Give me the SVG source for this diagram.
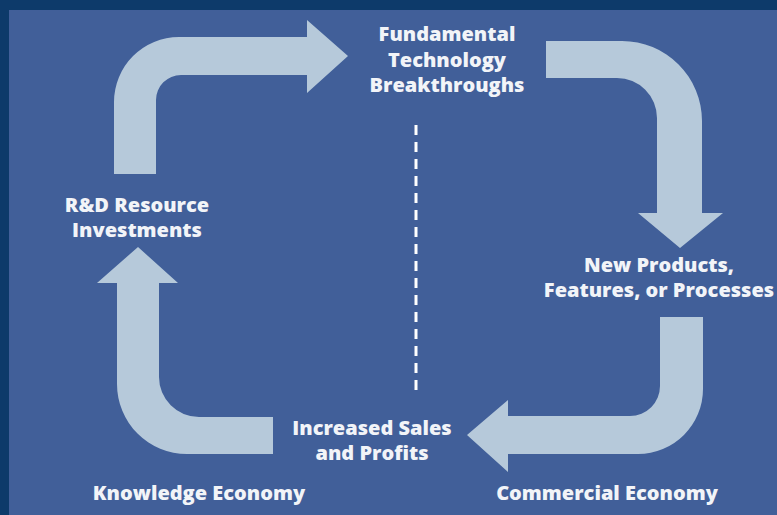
<svg xmlns="http://www.w3.org/2000/svg" width="777" height="515" viewBox="0 0 777 515">
<style>
.lbl{font-family:"Open Sans","Liberation Sans",sans-serif;font-weight:800;font-size:20px;fill:#f2f4f8;text-anchor:middle}
.arr{fill:#b6c9da}
</style>
<rect x="0" y="0" width="777" height="515" fill="#0d3a6a"/>
<rect x="9" y="10" width="768" height="505" fill="#415f99"/>
<g id="connectors">
<path class="arr" d="M114,174 L114,102 A65,65 0 0 1 179,37 L307,37 L307,20 L348,56 L307,93 L307,75 L181,75 A25,25 0 0 0 156,100 L156,174 Z"/>
<path class="arr" d="M546,41 L622,41 A80,80 0 0 1 702,121 L702,213 L723,213 L680,248 L638,213 L657,213 L657,118 A40,40 0 0 0 617,78 L546,78 Z"/>
<path class="arr" d="M660,317 L703,317 L703,389 A65,65 0 0 1 638,454 L508,454 L508,472 L467,435 L508,400 L508,416 L630,416 A30,30 0 0 0 660,386 Z"/>
<path class="arr" d="M273,417 L199,417 A40,40 0 0 1 159,377 L159,283 L178,283 L138,247 L97,283 L117,283 L117,384 A70,70 0 0 0 187,454 L273,454 Z"/>
</g>
<g id="divider">
<line x1="416" y1="125" x2="416" y2="395" stroke="#ffffff" stroke-width="3" stroke-dasharray="10,7"/>
</g>
<g id="breakthroughs">
<text class="lbl" x="447" y="41">Fundamental<tspan x="447" dy="26">Technology</tspan><tspan x="447" dy="25">Breakthroughs</tspan></text>
</g>
<g id="rnd">
<text class="lbl" x="137" y="212">R&amp;D Resource<tspan x="137" dy="25">Investments</tspan></text>
</g>
<g id="products">
<text class="lbl" x="659" y="272">New Products,<tspan x="659" dy="25">Features, or Processes</tspan></text>
</g>
<g id="sales">
<text class="lbl" x="372" y="435">Increased Sales<tspan x="372" dy="25">and Profits</tspan></text>
</g>
<g id="knowledge">
<text class="lbl" x="199" y="500">Knowledge Economy</text>
</g>
<g id="commercial">
<text class="lbl" x="607" y="500">Commercial Economy</text>
</g>
</svg>
